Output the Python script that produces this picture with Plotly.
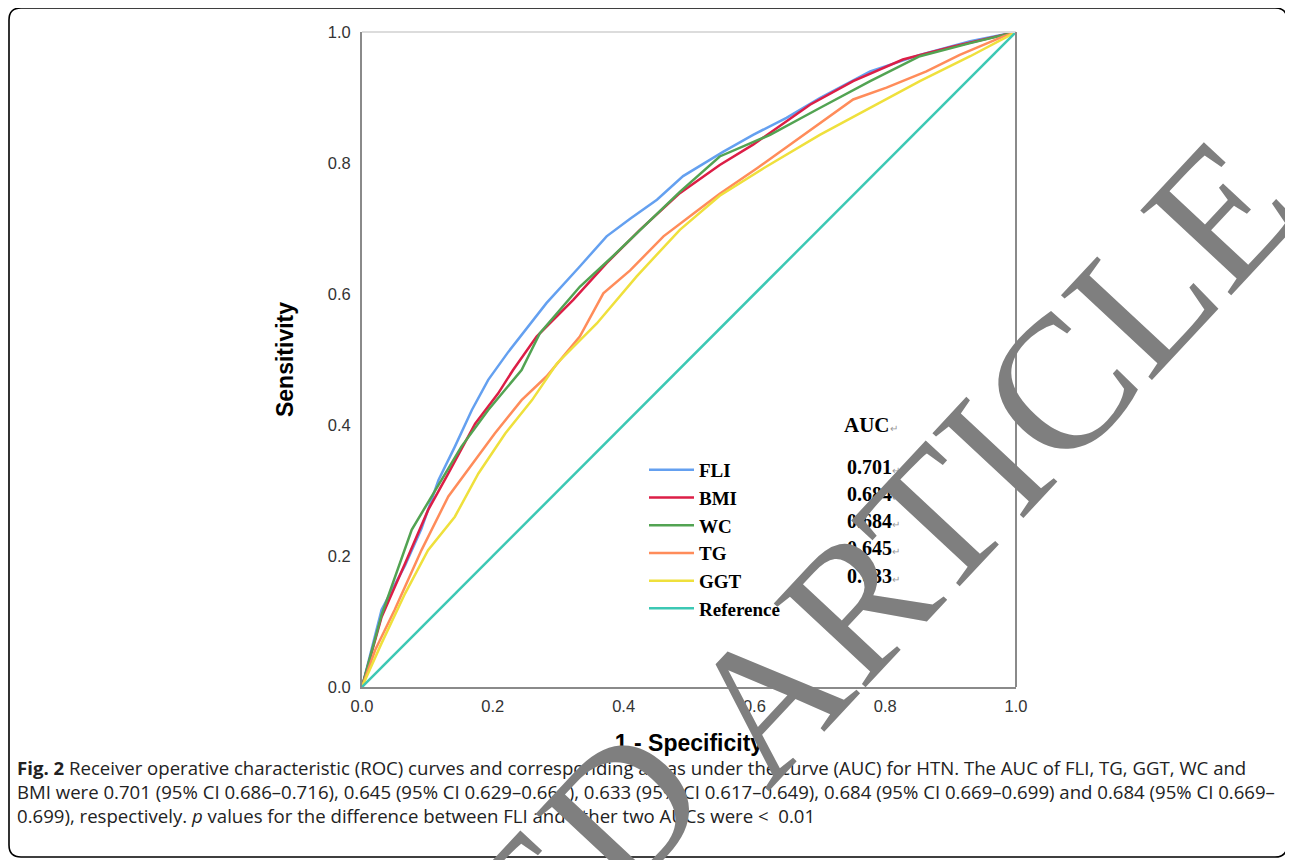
import plotly.graph_objects as go

OFF = 8                      # page body margin offset of the browser
W, H = 1293 - OFF, 860 - OFF
L, R, T, B = 362, 1016, 32, 687  # plot area in reference pixels

# ---------------- data ----------------
series_names = ["FLI", "BMI", "WC", "TG", "GGT", "Reference"]
series_colors = ["#64a0f0", "#dc1e46", "#52a352", "#ff8c5a", "#efe03c", "#3cc8b4"]
auc_values = ["0.701", "0.684", "0.684", "0.645", "0.633"]

fli_x = [0, 0.010, 0.030, 0.066, 0.091, 0.117, 0.142, 0.168, 0.193, 0.224, 0.282, 0.333, 0.374,
         0.410, 0.451, 0.491, 0.552, 0.598, 0.649, 0.700, 0.777, 0.853, 0.930, 1.0]
fli_y = [0, 0.040, 0.118, 0.186, 0.242, 0.316, 0.367, 0.423, 0.469, 0.512, 0.586, 0.642, 0.688,
         0.715, 0.744, 0.780, 0.817, 0.843, 0.869, 0.899, 0.940, 0.965, 0.986, 1.0]

bmi_x = [0, 0.010, 0.030, 0.066, 0.101, 0.132, 0.173, 0.208, 0.231, 0.267, 0.323, 0.374, 0.425,
         0.486, 0.547, 0.598, 0.634, 0.685, 0.751, 0.827, 0.904, 1.0]
bmi_y = [0, 0.035, 0.107, 0.189, 0.270, 0.326, 0.402, 0.448, 0.484, 0.535, 0.591, 0.647, 0.698,
         0.754, 0.797, 0.828, 0.853, 0.889, 0.925, 0.958, 0.978, 1.0]

wc_x = [0, 0.010, 0.030, 0.076, 0.112, 0.152, 0.193, 0.244, 0.272, 0.333, 0.384, 0.436, 0.486,
        0.547, 0.624, 0.700, 0.777, 0.853, 0.930, 1.0]
wc_y = [0, 0.038, 0.110, 0.240, 0.301, 0.367, 0.423, 0.484, 0.540, 0.611, 0.658, 0.708, 0.756,
        0.810, 0.843, 0.884, 0.925, 0.963, 0.983, 1.0]

tg_x = [0, 0.020, 0.050, 0.091, 0.132, 0.173, 0.203, 0.244, 0.282, 0.333, 0.369, 0.410, 0.461,
        0.507, 0.547, 0.604, 0.675, 0.751, 0.802, 0.863, 0.914, 0.980, 1.0]
tg_y = [0, 0.056, 0.118, 0.209, 0.291, 0.347, 0.387, 0.438, 0.474, 0.535, 0.601, 0.636, 0.688,
        0.723, 0.753, 0.792, 0.843, 0.897, 0.915, 0.940, 0.965, 0.993, 1.0]

ggt_x = [0, 0.030, 0.066, 0.101, 0.142, 0.178, 0.219, 0.260, 0.298, 0.359, 0.420, 0.486, 0.547,
         0.614, 0.700, 0.777, 0.853, 0.930, 1.0]
ggt_y = [0, 0.067, 0.143, 0.209, 0.260, 0.326, 0.387, 0.438, 0.494, 0.555, 0.627, 0.698, 0.750,
         0.792, 0.843, 0.884, 0.925, 0.963, 1.0]

ref_x = [0, 1]
ref_y = [0, 1]

tick_vals = [0.0, 0.2, 0.4, 0.6, 0.8, 1.0]
tick_text = ["0.0", "0.2", "0.4", "0.6", "0.8", "1.0"]

caption = ("<b>Fig. 2</b> Receiver operative characteristic (ROC) curves and corresponding areas under the curve (AUC) for HTN. "
           "The AUC of FLI, TG, GGT, WC and<br>"
           "BMI were 0.701 (95% CI 0.686–0.716), 0.645 (95% CI 0.629–0.661), 0.633 (95% CI 0.617–0.649), "
           "0.684 (95% CI 0.669–0.699) and 0.684 (95% CI 0.669–<br>"
           "0.699), respectively. <i>p</i> values for the difference between FLI and other two AUCs were <  0.01")

# ---------------- helpers (reference pixels -> paper) ----------------
def px(x):
    return (x - L) / (R - L)

def py(y):
    return (B - y) / (B - T)

xs = [fli_x, bmi_x, wc_x, tg_x, ggt_x, ref_x]
ys = [fli_y, bmi_y, wc_y, tg_y, ggt_y, ref_y]

fig = go.Figure()
for name, color, x, y in zip(series_names, series_colors, xs, ys):
    fig.add_trace(go.Scatter(x=x, y=y, mode="lines", name=name,
                             line=dict(color=color, width=2.5)))

fig.update_layout(
    width=W, height=H,
    margin=dict(l=L - OFF, r=W - (R - OFF), t=T - OFF, b=H - (B - OFF), pad=0),
    paper_bgcolor="white", plot_bgcolor="white",
    showlegend=True,
    legend=dict(x=px(644), y=py(451), xanchor="left", yanchor="top",
                bgcolor="rgba(0,0,0,0)", itemwidth=45,
                font=dict(family="Liberation Serif", size=19, color="black", weight="bold"),
                tracegroupgap=0),
    font=dict(family="Liberation Sans"),
)

fig.update_xaxes(range=[0, 1], tickvals=tick_vals, ticktext=tick_text, showgrid=False,
                 zeroline=False, showline=True, linecolor="#8a8a8a", linewidth=2,
                 ticks="", ticklabelstandoff=3,
                 tickfont=dict(family="Liberation Sans", size=16.5, color="#333333"),
                 title=dict(text="<b>1 - Specificity</b>", standoff=21,
                            font=dict(family="Liberation Sans", size=23, color="black")))
fig.update_yaxes(range=[0, 1], tickvals=tick_vals, ticktext=tick_text, showgrid=False,
                 zeroline=False, showline=True, linecolor="#8a8a8a", linewidth=2,
                 ticks="", ticklabelstandoff=6,
                 tickfont=dict(family="Liberation Sans", size=16.5, color="#333333"),
                 title=dict(text="<b>Sensitivity</b>", standoff=28,
                            font=dict(family="Liberation Sans", size=23, color="black")))

# top and right borders of the plot frame
fig.add_shape(type="line", xref="paper", yref="paper", x0=0, x1=1, y0=1, y1=1,
              line=dict(color="#dcdcdc", width=2))
fig.add_shape(type="line", xref="paper", yref="paper", x0=1, x1=1, y0=0, y1=1,
              line=dict(color="#8a8a8a", width=2))

# rounded outer frame
bl, bt, br, bb, rad = 9, 8, 1287, 857, 12
pts = [("M", bl + rad, bt), ("L", br - rad, bt), ("Q", br, bt, br, bt + rad),
       ("L", br, bb - rad), ("Q", br, bb, br - rad, bb), ("L", bl + rad, bb),
       ("Q", bl, bb, bl, bb - rad), ("L", bl, bt + rad), ("Q", bl, bt, bl + rad, bt)]
path = ""
for p in pts:
    cmd = p[0]
    coords = p[1:]
    segs = []
    for i in range(0, len(coords), 2):
        segs.append(f"{px(coords[i]):.5f},{py(coords[i+1]):.5f}")
    path += cmd + " " + " ".join(segs) + " "
fig.add_shape(type="path", xref="paper", yref="paper", path=path + "Z",
              line=dict(color="black", width=1.6), layer="above")

# AUC column
fig.add_annotation(xref="paper", yref="paper", x=px(842), y=py(425), xanchor="left", yanchor="middle",
                   text="<b>AUC</b><span style='font-size:10px;color:#999'>↵</span>", showarrow=False,
                   font=dict(family="Liberation Serif", size=21, color="black"))
auc_rows = [467, 494, 521, 548, 576]
for val, yy in zip(auc_values, auc_rows):
    fig.add_annotation(xref="paper", yref="paper", x=px(845), y=py(yy), xanchor="left", yanchor="middle",
                       text=f"<b>{val}</b><span style='font-size:10px;color:#999'>↵</span>", showarrow=False,
                       font=dict(family="Liberation Serif", size=20, color="black"))

# caption
fig.add_annotation(xref="paper", yref="paper", x=px(15), y=py(753), xanchor="left", yanchor="top",
                   align="left", text=caption, showarrow=False,
                   font=dict(family="Open Sans", size=18.6, color="#222222"))

# watermark
fig.add_annotation(xref="paper", yref="paper", x=px(990), y=py(460), xanchor="center", yanchor="middle",
                   text="ARTICLE", textangle=-47, showarrow=False,
                   font=dict(family="Liberation Serif", size=190, color="#7f7f7f"))
fig.add_annotation(xref="paper", yref="paper", x=px(288), y=py(1168), xanchor="center", yanchor="middle",
                   text="RETRACTED", textangle=-47, showarrow=False,
                   font=dict(family="Liberation Serif", size=190, color="#7f7f7f"))

fig.write_html("out.html")
